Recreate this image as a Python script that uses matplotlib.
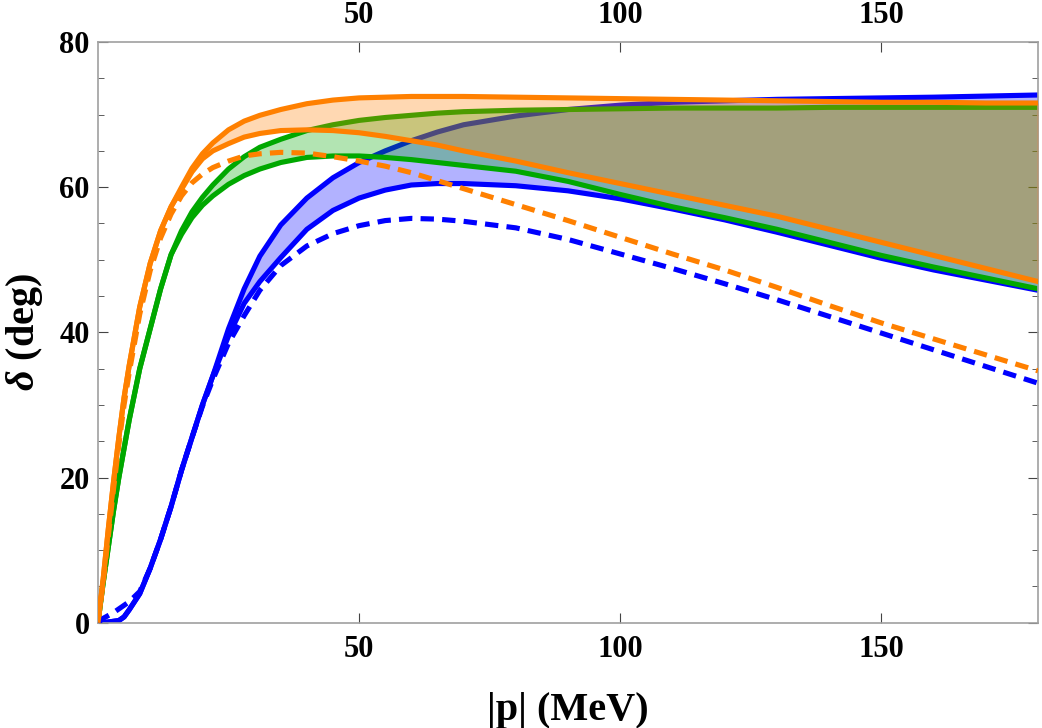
import numpy as np
import matplotlib
matplotlib.use("Agg")
import matplotlib.pyplot as plt
from matplotlib.ticker import MultipleLocator

plt.rcParams["font.family"] = ["Liberation Serif", "DejaVu Serif"]
plt.rcParams["font.weight"] = "bold"
plt.rcParams["axes.labelweight"] = "bold"
plt.rcParams["mathtext.fontset"] = "custom"
plt.rcParams["mathtext.it"] = "Liberation Serif:italic:bold"
plt.rcParams["mathtext.rm"] = "Liberation Serif:bold"

# momentum grid |p| (MeV)
p = [0, 1, 2, 3, 4, 5, 6, 8, 10, 12, 14, 16, 18, 20, 22, 25, 28, 31, 35, 40,
     45, 50, 55, 60, 65, 70, 80, 90, 100, 110, 120, 130, 140, 150, 160, 170, 180]

# blue band
blue_lo = [0, 0, 0.1, 0.2, 0.3, 0.8, 1.8, 4.0, 7.5, 11.5, 16.0, 21.0, 25.5, 30.0, 34.0,
           39.5, 44.0, 47.0, 50.3, 54.2, 56.8, 58.5, 59.6, 60.3, 60.5, 60.5, 60.2, 59.5,
           58.4, 57.0, 55.5, 53.8, 52.0, 50.2, 48.6, 47.2, 45.8]
blue_hi = [0, 0, 0.1, 0.2, 0.3, 0.8, 1.8, 4.0, 7.5, 11.5, 16.0, 21.0, 25.5, 30.0, 34.0,
           40.5, 46.0, 50.5, 54.8, 58.5, 61.3, 63.4, 65.0, 66.4, 67.6, 68.6, 69.8, 70.7,
           71.3, 71.7, 71.9, 72.1, 72.2, 72.3, 72.4, 72.55, 72.7]
blue_dash = [0, 0.6, 1.0, 1.4, 1.9, 2.4, 2.9, 4.3, 7.5, 11.5, 16.0, 21.0, 25.5, 29.8, 33.5,
             38.5, 42.3, 45.8, 49.2, 51.9, 53.6, 54.7, 55.4, 55.7, 55.6, 55.3, 54.4, 52.8,
             50.8, 48.8, 46.7, 44.5, 42.2, 39.9, 37.6, 35.3, 33.0]

# green band
green_lo = [0, 5.5, 10.5, 15.5, 20.0, 24.0, 28.0, 35.0, 40.5, 46.0, 50.7, 53.5, 55.8, 57.5,
            58.8, 60.4, 61.6, 62.5, 63.4, 64.1, 64.3, 64.3, 64.1, 63.8, 63.4, 63.0, 62.2,
            60.8, 59.0, 57.3, 55.8, 54.2, 52.4, 50.6, 49.0, 47.5, 46.0]
green_hi = [0, 5.5, 10.5, 15.5, 20.0, 24.0, 28.0, 35.0, 40.5, 46.0, 50.7, 54.0, 56.6, 58.6,
            60.3, 62.5, 64.2, 65.5, 66.6, 67.8, 68.6, 69.2, 69.6, 69.9, 70.2, 70.4, 70.6,
            70.7, 70.8, 70.9, 70.9, 70.9, 71.0, 71.0, 71.0, 71.0, 71.0]

# orange band
orange_lo = [0, 6.0, 13.0, 19.5, 25.5, 31.0, 35.5, 43.5, 49.5, 54.0, 57.3, 59.7, 62.1, 63.9,
             65.0, 66.0, 66.9, 67.4, 67.8, 67.9, 67.8, 67.5, 67.0, 66.4, 65.8, 65.0, 63.6,
             62.0, 60.5, 59.0, 57.5, 56.0, 54.2, 52.4, 50.6, 48.8, 47.0]
orange_hi = [0, 6.0, 13.0, 19.5, 25.5, 31.0, 35.5, 43.5, 49.5, 54.0, 57.3, 60.0, 62.6, 64.6,
             66.1, 67.9, 69.1, 69.9, 70.7, 71.5, 72.0, 72.3, 72.4, 72.5, 72.5, 72.5, 72.4,
             72.3, 72.2, 72.1, 72.0, 71.9, 71.8, 71.7, 71.7, 71.6, 71.6]
orange_dash = [0, 5.5, 12.0, 18.5, 24.5, 30.0, 34.5, 42.5, 48.5, 53.0, 56.3, 58.8, 60.6, 61.8,
               62.7, 63.6, 64.3, 64.6, 64.8, 64.7, 64.2, 63.6, 62.9, 62.0, 60.9, 59.8, 57.6,
               55.4, 53.1, 50.8, 48.6, 46.2, 43.7, 41.3, 39.1, 36.9, 34.7]

BLUE = (0, 0, 1)
GREEN = (0, 0.66, 0)
ORANGE = (1, 0.5, 0)
LW = 3.7

fig = plt.figure(figsize=(10.42, 7.28), dpi=100)
ax = fig.add_axes([0.094, 0.1446, 0.9022, 0.7977])

# each band: fill first, then its edges; later bands tint earlier ones
z = 1
for lo, hi, col in [(blue_lo, blue_hi, BLUE), (green_lo, green_hi, GREEN),
                    (orange_lo, orange_hi, ORANGE)]:
    ax.fill_between(p, lo, hi, color=col, alpha=0.3, lw=0, zorder=z)
    ax.plot(p, lo, color=col, lw=LW, zorder=z + 0.5, solid_joinstyle="round")
    ax.plot(p, hi, color=col, lw=LW, zorder=z + 0.5, solid_joinstyle="round")
    z += 1

ax.plot(p, blue_dash, color=BLUE, lw=LW, dashes=(2.6, 1.6), zorder=z)
ax.plot(p, orange_dash, color=ORANGE, lw=LW, dashes=(2.6, 1.6), zorder=z)

ax.set_xlim(0, 180)
ax.set_ylim(0, 80)
ax.set_xticks([50, 100, 150])
ax.yaxis.set_major_locator(MultipleLocator(20))
ax.yaxis.set_minor_locator(MultipleLocator(5))

for s in ax.spines.values():
    s.set_color("#a0a0a0")
    s.set_linewidth(1.2)

ax.tick_params(which="both", direction="in", top=True, right=True,
               labeltop=True, labelbottom=True, labelsize=22, color="#444444")
ax.tick_params(axis="x", which="major", length=7, pad=9)
ax.tick_params(axis="y", which="major", length=7, pad=6)
ax.tick_params(axis="y", which="minor", length=4.5)

ax.set_xlabel("|p| (MeV)", fontsize=29, fontweight="bold", labelpad=20)
ax.set_ylabel(r"$\delta$ (deg)", fontsize=29, fontweight="bold", labelpad=10)

fig.savefig("out.png", dpi=100)
